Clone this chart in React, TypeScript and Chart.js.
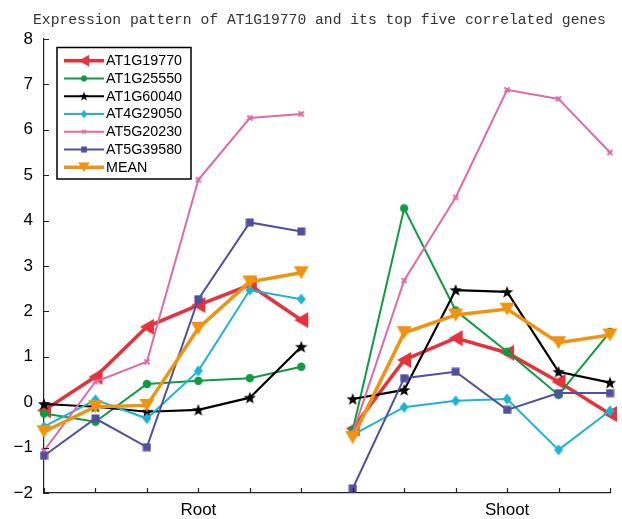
import { useEffect, useRef } from 'react';
import { Chart, registerables } from 'chart.js';
Chart.register(...registerables);

const TITLE = 'Expression pattern of AT1G19770 and its top five correlated genes';
const groupNames = ['Root', 'Shoot'];
const groupLabelIndex = [3, 9];
const samplesPerGroup = 6;
const seriesNames = ['AT1G19770', 'AT1G25550', 'AT1G60040', 'AT4G29050', 'AT5G20230', 'AT5G39580', 'MEAN'];

const AT1G19770 = [-0.18, 0.56, 1.66, 2.14, 2.58, 1.81, -0.58, 0.93, 1.41, 1.09, 0.45, -0.26];
const AT1G25550 = [-0.25, -0.43, 0.40, 0.47, 0.53, 0.78, -0.62, 4.27, 2.02, 1.11, 0.16, 1.55];
const AT1G60040 = [-0.04, -0.10, -0.21, -0.17, 0.10, 1.22, 0.07, 0.27, 2.47, 2.43, 0.67, 0.43];
const AT4G29050 = [-0.54, 0.05, -0.36, 0.69, 2.47, 2.27, -0.72, -0.11, 0.03, 0.07, -1.05, -0.19];
const AT5G20230 = [-1.07, 0.45, 0.89, 4.90, 6.26, 6.35, -0.68, 2.68, 4.51, 6.88, 6.68, 5.50];
const AT5G39580 = [-1.18, -0.36, -0.99, 2.27, 3.96, 3.76, -1.90, 0.53, 0.67, -0.17, 0.20, 0.20];
const MEAN = [-0.65, -0.10, -0.07, 1.63, 2.65, 2.85, -0.78, 1.53, 1.92, 2.05, 1.31, 1.48];

const seriesValues = [AT1G19770, AT1G25550, AT1G60040, AT4G29050, AT5G20230, AT5G39580, MEAN];
const seriesColors = ['#e5323b', '#0d9b40', '#000000', '#1cb4d3', '#e06aa6', '#514f9f', '#ef9311'];
const seriesMarkers = ['triLeft', 'circle', 'star', 'diamond', 'x', 'square', 'triDown'];
const seriesLineWidths = [3.5, 2, 2.2, 2, 2, 2, 3.5];

function makeMarker(type: string, color: string): HTMLCanvasElement {
  const c = document.createElement('canvas');
  let w = 10, h = 10;
  if (type === 'triLeft') { w = 16; h = 18; }
  else if (type === 'triDown') { w = 17; h = 15; }
  else if (type === 'circle') { w = 10; h = 10; }
  else if (type === 'star') { w = 14; h = 14; }
  else if (type === 'diamond') { w = 10; h = 12; }
  else if (type === 'x') { w = 8; h = 8; }
  else if (type === 'square') { w = 9; h = 9; }
  c.width = w; c.height = h;
  const ctx = c.getContext('2d')!;
  ctx.fillStyle = color;
  ctx.strokeStyle = color;
  ctx.beginPath();
  if (type === 'triLeft') {
    ctx.moveTo(w - 1, 1); ctx.lineTo(w - 1, h - 1); ctx.lineTo(1, h / 2); ctx.closePath(); ctx.fill();
  } else if (type === 'triDown') {
    ctx.moveTo(1, 1); ctx.lineTo(w - 1, 1); ctx.lineTo(w / 2, h - 1); ctx.closePath(); ctx.fill();
  } else if (type === 'circle') {
    ctx.arc(w / 2, h / 2, 4.2, 0, Math.PI * 2); ctx.fill();
  } else if (type === 'star') {
    const cx = w / 2, cy = h / 2 + 0.5, R = 6.5, r = 2.7;
    for (let i = 0; i < 10; i++) {
      const a = -Math.PI / 2 + (i * Math.PI) / 5;
      const rr = i % 2 === 0 ? R : r;
      const px = cx + rr * Math.cos(a), py = cy + rr * Math.sin(a);
      if (i === 0) ctx.moveTo(px, py); else ctx.lineTo(px, py);
    }
    ctx.closePath(); ctx.fill();
  } else if (type === 'diamond') {
    ctx.moveTo(w / 2, 0.5); ctx.lineTo(w - 0.5, h / 2); ctx.lineTo(w / 2, h - 0.5); ctx.lineTo(0.5, h / 2); ctx.closePath(); ctx.fill();
  } else if (type === 'x') {
    ctx.lineWidth = 2;
    ctx.moveTo(1.5, 1.5); ctx.lineTo(w - 1.5, h - 1.5);
    ctx.moveTo(w - 1.5, 1.5); ctx.lineTo(1.5, h - 1.5);
    ctx.stroke();
  } else if (type === 'square') {
    ctx.fillRect(0.5, 0.5, w - 1, h - 1);
  }
  return c;
}

export default function App() {
  const ref = useRef<HTMLCanvasElement | null>(null);
  useEffect(() => {
    document.body.style.margin = '0';
    const markers = seriesMarkers.map((m, i) => makeMarker(m, seriesColors[i]));
    const datasets = seriesValues.map((vals, i) => {
      const pts: any[] = [];
      vals.forEach((v, j) => {
        if (j === samplesPerGroup) pts.push({ x: samplesPerGroup - 0.5, y: null });
        pts.push({ x: j, y: v });
      });
      return {
        label: seriesNames[i],
        data: pts,
        borderColor: seriesColors[i],
        backgroundColor: seriesColors[i],
        borderWidth: seriesLineWidths[i],
        pointStyle: markers[i],
        pointRadius: 6,
        tension: 0,
        spanGaps: false,
        clip: false,
        order: seriesValues.length - 1 - i,
      };
    });

    const titlePlugin = {
      id: 'titleText',
      afterDraw(chart: any) {
        const ctx = chart.ctx;
        ctx.save();
        ctx.font = '14.7px "Liberation Mono", "Courier New", monospace';
        ctx.fillStyle = '#333';
        ctx.textAlign = 'left';
        ctx.textBaseline = 'alphabetic';
        ctx.fillText(TITLE, 33, 24);
        ctx.restore();
      },
    };

    const tickPlugin = {
      id: 'innerTicks',
      afterDraw(chart: any) {
        const ctx = chart.ctx;
        const xs = chart.scales.x, ys = chart.scales.y;
        const area = chart.chartArea;
        ctx.save();
        ctx.strokeStyle = '#222';
        ctx.lineWidth = 1.2;
        ctx.beginPath();
        ys.ticks.forEach((t: any) => {
          const py = Math.round(ys.getPixelForValue(t.value)) + 0.5;
          ctx.moveTo(area.left, py); ctx.lineTo(area.left + 5, py);
        });
        xs.ticks.forEach((t: any) => {
          const px = Math.round(xs.getPixelForValue(t.value)) + 0.5;
          ctx.moveTo(px, area.bottom); ctx.lineTo(px, area.bottom - 5);
        });
        ctx.stroke();
        ctx.restore();
      },
    };

    const legendPlugin = {
      id: 'boxLegend',
      afterDraw(chart: any) {
        const ctx = chart.ctx;
        const bx = 57, by = 47.5, bw = 134, bh = 131.5;
        ctx.save();
        ctx.fillStyle = '#fff';
        ctx.fillRect(bx, by, bw, bh);
        ctx.strokeStyle = '#000';
        ctx.lineWidth = 1.5;
        ctx.strokeRect(bx, by, bw, bh);
        chart.data.datasets.forEach((ds: any, i: number) => {
          const cy = 60.7 + i * 17.77;
          ctx.strokeStyle = ds.borderColor;
          ctx.lineWidth = ds.borderWidth;
          ctx.beginPath();
          ctx.moveTo(64, cy); ctx.lineTo(104, cy);
          ctx.stroke();
          const img = ds.pointStyle as HTMLCanvasElement;
          const s = 0.75;
          ctx.drawImage(img, 84 - (img.width * s) / 2, cy - (img.height * s) / 2, img.width * s, img.height * s);
          ctx.fillStyle = '#000';
          ctx.font = '14.3px "Liberation Sans", Arial, sans-serif';
          ctx.textAlign = 'left';
          ctx.textBaseline = 'middle';
          ctx.fillText(ds.label, 106, cy + 0.5);
        });
        ctx.restore();
      },
    };

    const chart = new Chart(ref.current!, {
      type: 'line',
      data: { datasets },
      options: {
        animation: false,
        responsive: false,
        maintainAspectRatio: false,
        layout: { padding: { top: 39, right: 12, bottom: 0, left: 0 } },
        plugins: { legend: { display: false }, tooltip: { enabled: false }, title: { display: false } },
        scales: {
          x: {
            type: 'linear',
            min: 0,
            max: seriesValues[0].length - 1,
            afterFit(scale: any) { scale.height = 26; },
            grid: { display: false, drawTicks: false },
            border: { display: true, color: '#222', width: 1.2 },
            ticks: {
              stepSize: 1,
              autoSkip: false,
              maxRotation: 0,
              padding: 7,
              color: '#000',
              font: { family: '"Liberation Sans", Arial, sans-serif', size: 17 },
              callback: (v: any) => {
                const k = groupLabelIndex.indexOf(Number(v));
                return k >= 0 ? groupNames[k] : '';
              },
            },
          },
          y: {
            min: -2,
            max: 8,
            afterFit(scale: any) { scale.width = 44; },
            grid: { display: false, drawTicks: false },
            border: { display: true, color: '#222', width: 1.2 },
            ticks: {
              stepSize: 1,
              padding: 11,
              color: '#000',
              font: { family: '"Liberation Sans", Arial, sans-serif', size: 17 },
              callback: (v: any) => String(v).replace('-', '\u2212'),
            },
          },
        },
      } as any,
      plugins: [titlePlugin, tickPlugin, legendPlugin],
    });
    return () => chart.destroy();
  }, []);
  return (
    <div style={{ width: 622, height: 519 }}>
      <canvas ref={ref} width={622} height={519} style={{ display: 'block' }} />
    </div>
  );
}
